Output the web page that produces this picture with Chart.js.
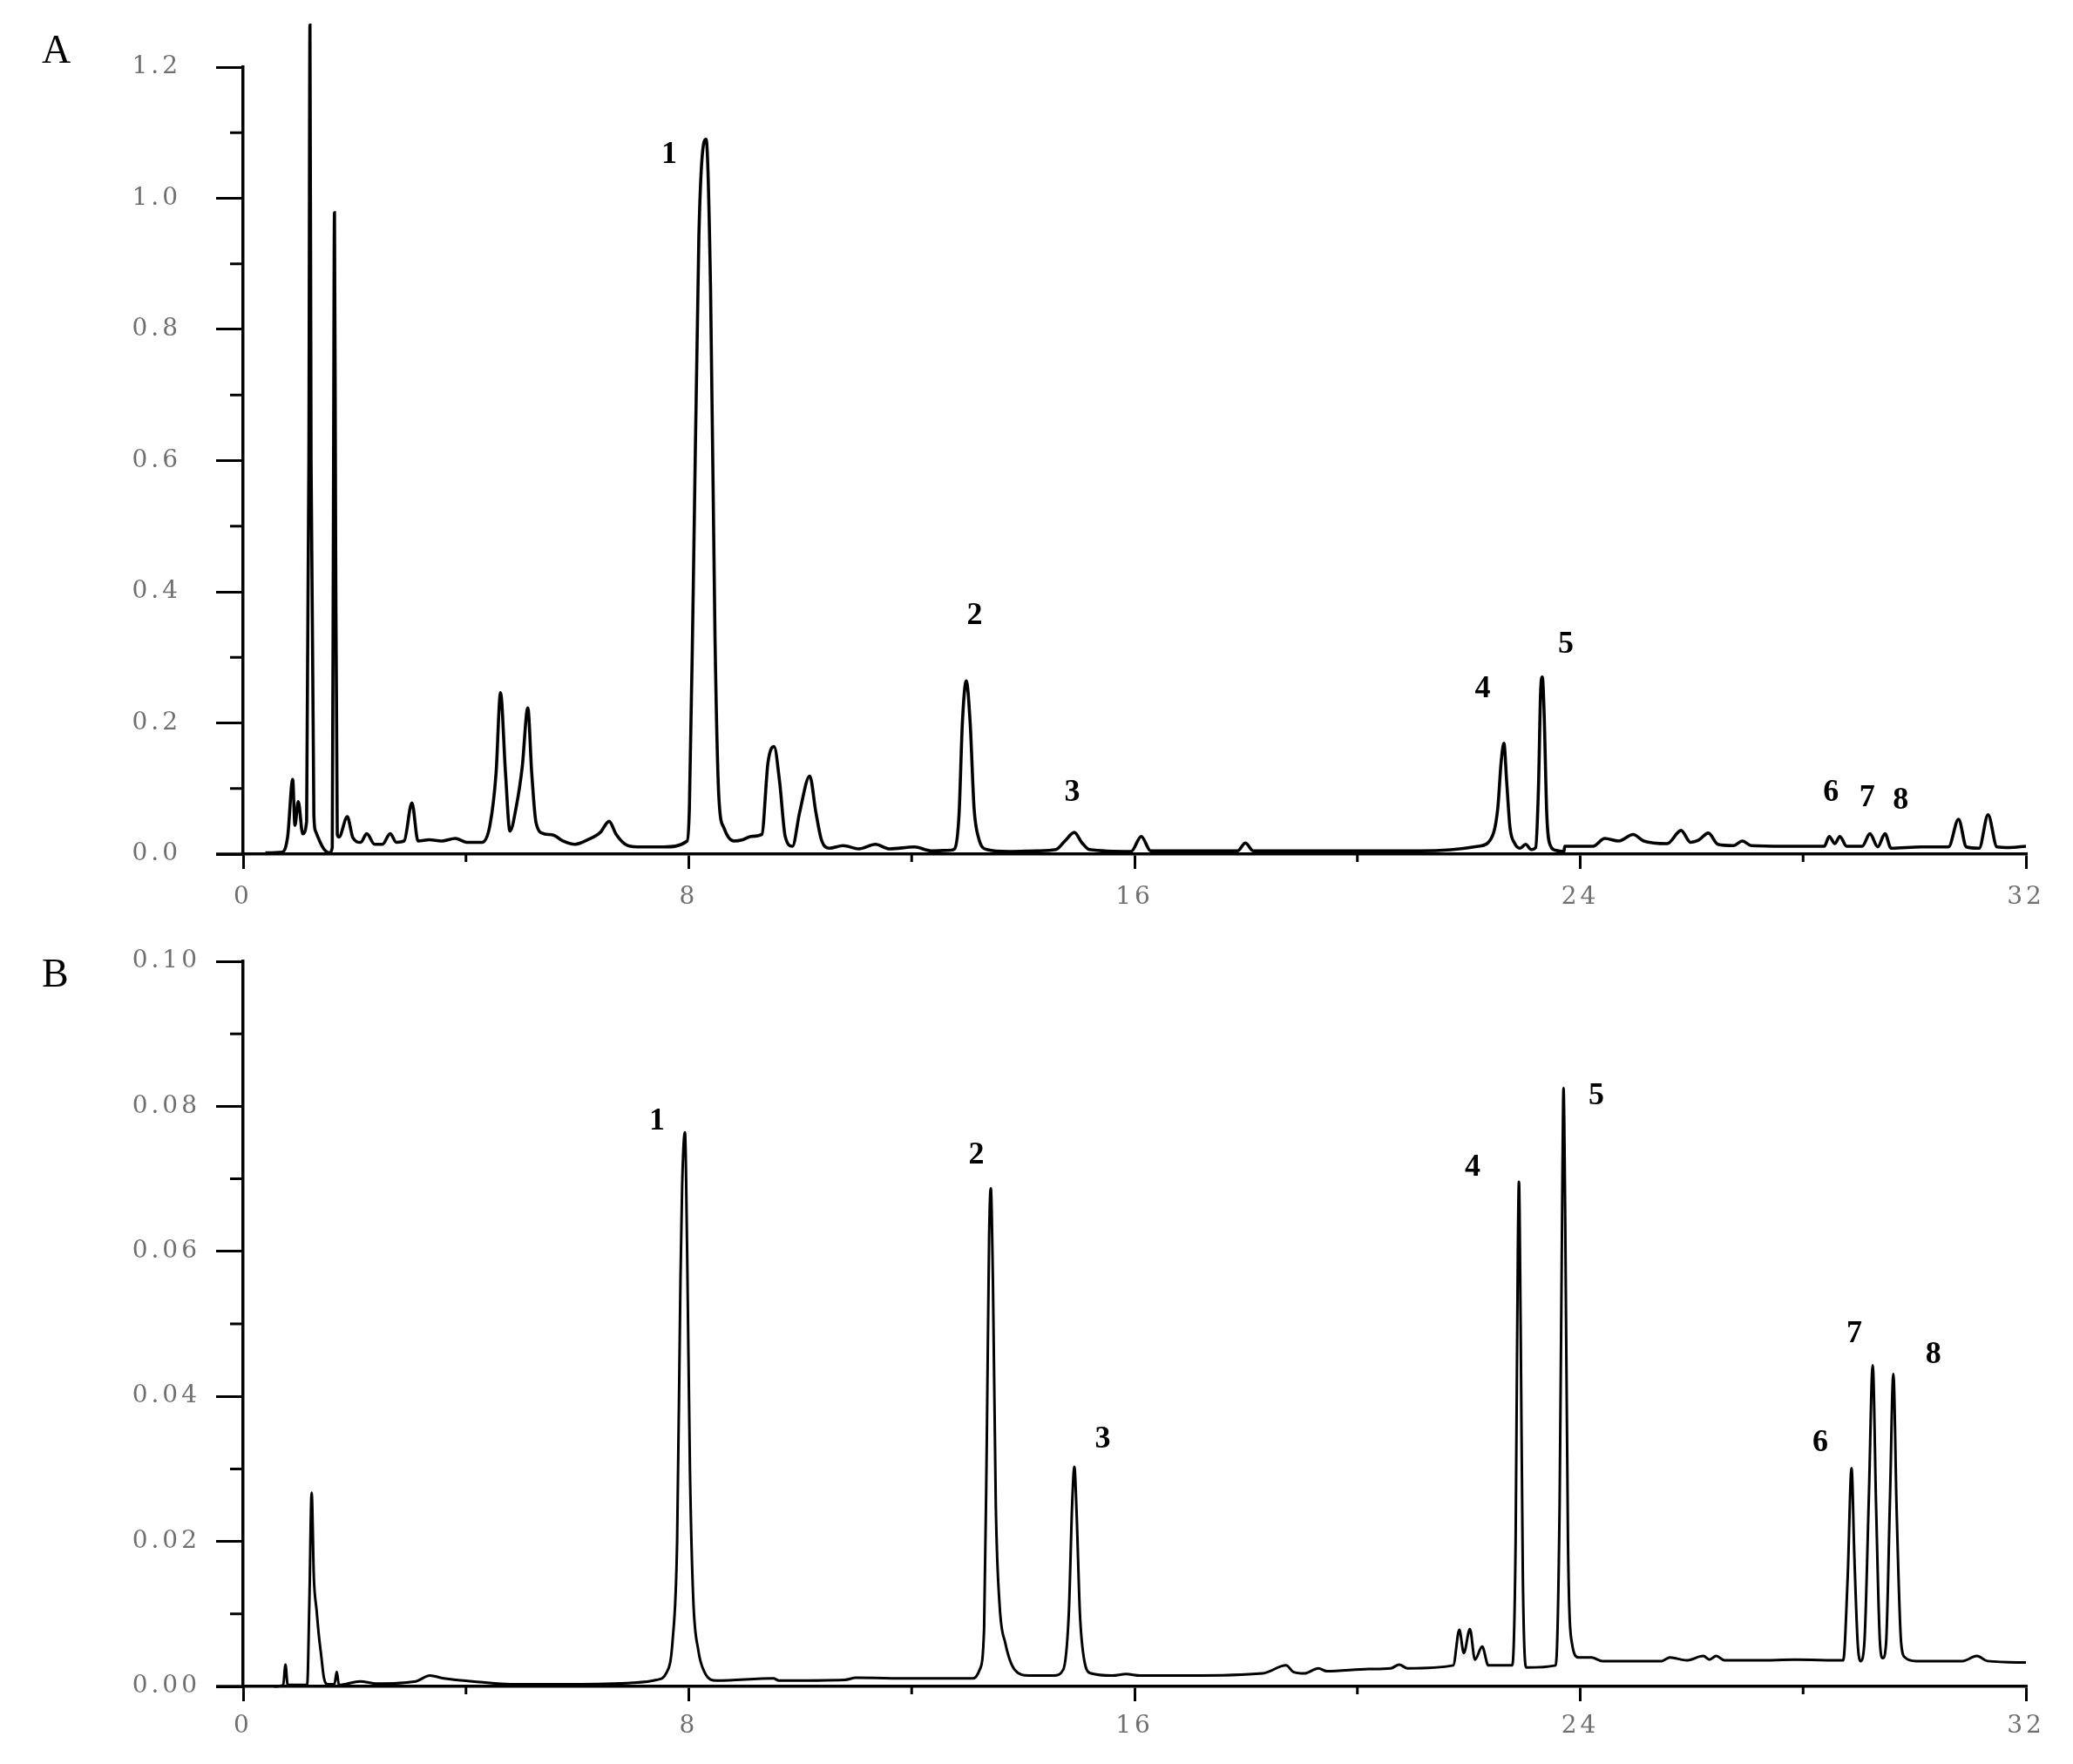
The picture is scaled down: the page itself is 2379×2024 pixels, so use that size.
<!DOCTYPE html>
<html>
<head>
<meta charset="utf-8">
<script src="https://cdn.jsdelivr.net/npm/chart.js@4/dist/chart.umd.min.js"></script>
<style>
  body { margin: 0; background: #fff; }
  #wrap { position: relative; width: 2379px; height: 2024px; }
  .panel { position: absolute; left: 0; }
  .letter { position: absolute; font-family: "Liberation Serif", serif; font-size: 46px; line-height: 46px; color: #000; }
</style>
</head>
<body>
<div id="wrap">
  <canvas id="chartA" class="panel" width="2379" height="1060" style="top:0"></canvas>
  <canvas id="chartB" class="panel" width="2379" height="964" style="top:1060px"></canvas>
  <div class="letter" style="left:48px;top:34px">A</div>
  <div class="letter" style="left:48px;top:1094px">B</div>
</div>
<script>
// retention time (min) and absorbance
var chromA = [
  [0.40, 0.002], [0.70, 0.003], [0.80, 0.027], [0.89, 0.114], [0.93, 0.044], [0.99, 0.080],
  [1.07, 0.031], [1.14, 0.050], [1.18, 0.600], [1.20, 1.264], [1.22, 0.600], [1.27, 0.060],
  [1.30, 0.035], [1.44, 0.009], [1.55, 0.002], [1.60, 0.010], [1.62, 0.500], [1.64, 0.978],
  [1.66, 0.500], [1.69, 0.030], [1.72, 0.026], [1.87, 0.057], [1.97, 0.025], [2.11, 0.018],
  [2.22, 0.031], [2.36, 0.015], [2.50, 0.015], [2.64, 0.031], [2.75, 0.018], [2.89, 0.020],
  [3.03, 0.078], [3.14, 0.020], [3.34, 0.022], [3.56, 0.020], [3.81, 0.024], [4.01, 0.018],
  [4.29, 0.018], [4.43, 0.044], [4.54, 0.123], [4.62, 0.246], [4.71, 0.123], [4.79, 0.035],
  [4.90, 0.071], [5.01, 0.133], [5.11, 0.223], [5.18, 0.124], [5.26, 0.047], [5.40, 0.031],
  [5.57, 0.029], [5.74, 0.020], [5.96, 0.015], [6.19, 0.022], [6.41, 0.033], [6.57, 0.050],
  [6.69, 0.031], [6.86, 0.015], [7.08, 0.011], [7.55, 0.011], [7.97, 0.020], [8.01, 0.070],
  [8.08, 0.406], [8.18, 0.940], [8.27, 1.085], [8.31, 1.090], [8.39, 0.863], [8.47, 0.330],
  [8.54, 0.086], [8.63, 0.040], [8.81, 0.020], [8.97, 0.022], [9.12, 0.027], [9.31, 0.030],
  [9.42, 0.139], [9.53, 0.164], [9.63, 0.110], [9.73, 0.027], [9.86, 0.012], [9.99, 0.064],
  [10.17, 0.119], [10.28, 0.064], [10.38, 0.022], [10.52, 0.009], [10.77, 0.013], [11.05, 0.008],
  [11.35, 0.015], [11.60, 0.008], [12.05, 0.011], [12.35, 0.005], [12.70, 0.006], [12.77, 0.008],
  [12.85, 0.060], [12.91, 0.200], [12.98, 0.264], [13.05, 0.200], [13.12, 0.070], [13.20, 0.025],
  [13.35, 0.007], [13.75, 0.004], [14.24, 0.005], [14.59, 0.007], [14.75, 0.020], [14.92, 0.033],
  [15.05, 0.018], [15.19, 0.007], [15.94, 0.004], [16.12, 0.027], [16.29, 0.005], [17.14, 0.005],
  [17.85, 0.005], [17.99, 0.017], [18.13, 0.005], [19.13, 0.005], [21.13, 0.005], [22.17, 0.012],
  [22.42, 0.027], [22.52, 0.070], [22.58, 0.140], [22.63, 0.169], [22.68, 0.110], [22.74, 0.040],
  [22.82, 0.017], [22.92, 0.009], [23.02, 0.015], [23.12, 0.007], [23.20, 0.010], [23.25, 0.100],
  [23.29, 0.250], [23.32, 0.270], [23.35, 0.220], [23.40, 0.060], [23.47, 0.012], [23.55, 0.006],
  [23.71, 0.004], [23.72, 0.012], [24.23, 0.012], [24.44, 0.024], [24.69, 0.020], [24.95, 0.030],
  [25.14, 0.020], [25.56, 0.016], [25.81, 0.036], [25.98, 0.018], [26.12, 0.021], [26.30, 0.032],
  [26.47, 0.015], [26.75, 0.013], [26.91, 0.020], [27.07, 0.013], [27.66, 0.012], [28.08, 0.012],
  [28.38, 0.012], [28.47, 0.027], [28.57, 0.016], [28.66, 0.027], [28.78, 0.012], [29.06, 0.012],
  [29.20, 0.031], [29.34, 0.011], [29.47, 0.031], [29.58, 0.009], [30.12, 0.011], [30.61, 0.011],
  [30.79, 0.053], [30.93, 0.011], [31.16, 0.009], [31.32, 0.060], [31.48, 0.011], [31.70, 0.010],
  [32.00, 0.012]
];

var chromB = [
  [0.55, 0.0000], [0.72, 0.0002], [0.76, 0.0030], [0.80, 0.0002], [1.15, 0.0002], [1.19, 0.0120],
  [1.23, 0.0267], [1.27, 0.0150], [1.32, 0.0104], [1.36, 0.0070], [1.40, 0.0044], [1.45, 0.0012],
  [1.52, 0.0003], [1.64, 0.0003], [1.68, 0.0020], [1.72, 0.0002], [2.10, 0.0007], [2.40, 0.0004],
  [3.10, 0.0007], [3.35, 0.0015], [3.60, 0.0011], [4.25, 0.0006], [4.80, 0.0003], [5.90, 0.0003],
  [7.00, 0.0005], [7.42, 0.0009], [7.60, 0.0019], [7.71, 0.0064], [7.79, 0.0200], [7.85, 0.0560],
  [7.88, 0.0690], [7.93, 0.0764], [7.97, 0.0600], [8.02, 0.0300], [8.08, 0.0120], [8.17, 0.0050],
  [8.28, 0.0020], [8.50, 0.0008], [9.52, 0.0011], [9.62, 0.0008], [10.80, 0.0009], [11.00, 0.0012],
  [12.00, 0.0011], [13.10, 0.0011], [13.22, 0.0023], [13.30, 0.0080], [13.35, 0.0350], [13.39, 0.0620],
  [13.42, 0.0687], [13.46, 0.0550], [13.51, 0.0250], [13.58, 0.0110], [13.68, 0.0060], [13.85, 0.0023],
  [14.10, 0.0015], [14.55, 0.0015], [14.72, 0.0023], [14.82, 0.0100], [14.88, 0.0250], [14.92, 0.0303],
  [14.96, 0.0240], [15.02, 0.0100], [15.10, 0.0035], [15.22, 0.0018], [15.60, 0.0015], [15.85, 0.0017],
  [16.10, 0.0015], [17.00, 0.0015], [18.30, 0.0018], [18.72, 0.0029], [18.85, 0.0020], [19.05, 0.0018],
  [19.30, 0.0025], [19.45, 0.0021], [20.20, 0.0024], [20.60, 0.0025], [20.75, 0.0030], [20.90, 0.0025],
  [21.72, 0.0029], [21.83, 0.0078], [21.91, 0.0046], [22.02, 0.0079], [22.11, 0.0037], [22.24, 0.0055],
  [22.35, 0.0029], [22.78, 0.0029], [22.84, 0.0200], [22.88, 0.0600], [22.90, 0.0696], [22.93, 0.0500],
  [22.97, 0.0150], [23.03, 0.0026], [23.56, 0.0029], [23.63, 0.0250], [23.68, 0.0700], [23.70, 0.0825],
  [23.73, 0.0650], [23.78, 0.0200], [23.85, 0.0060], [23.97, 0.0040], [24.20, 0.0040], [24.40, 0.0035],
  [25.46, 0.0035], [25.61, 0.0040], [25.91, 0.0036], [26.21, 0.0042], [26.32, 0.0037], [26.44, 0.0042],
  [26.59, 0.0036], [27.20, 0.0036], [27.86, 0.0037], [28.72, 0.0036], [28.80, 0.0150], [28.87, 0.0301],
  [28.92, 0.0180], [28.98, 0.0060], [29.03, 0.0035], [29.10, 0.0060], [29.18, 0.0260], [29.25, 0.0443],
  [29.31, 0.0250], [29.38, 0.0060], [29.43, 0.0039], [29.49, 0.0060], [29.56, 0.0260], [29.62, 0.0431],
  [29.68, 0.0240], [29.76, 0.0060], [29.83, 0.0040], [30.03, 0.0035], [30.86, 0.0035], [31.12, 0.0042],
  [31.31, 0.0035], [32.00, 0.0033]
];

// peak numbers and where they are written (time, absorbance)
var peakNames = ["1", "2", "3", "4", "5", "6", "7", "8"];
var peakTimeA = [7.65, 13.13, 14.88, 22.25, 23.74, 28.50, 29.15, 29.75];
var peakHeightA = [1.066, 0.363, 0.094, 0.252, 0.319, 0.093, 0.086, 0.081];
var peakTimeB = [7.43, 13.16, 15.43, 22.07, 24.29, 28.31, 28.92, 30.34];
var peakHeightB = [0.0779, 0.0732, 0.0341, 0.0715, 0.0814, 0.0336, 0.0486, 0.0457];

// axes
var xTicks = [0, 8, 16, 24, 32];
var xTickLabels = ["0", "8", "16", "24", "32"];
var xMinor = [4, 12, 20, 28];
var yTicksA = [0, 0.2, 0.4, 0.6, 0.8, 1.0, 1.2];
var yTickLabelsA = ["0.0", "0.2", "0.4", "0.6", "0.8", "1.0", "1.2"];
var yMinorA = [0.1, 0.3, 0.5, 0.7, 0.9, 1.1];
var yTicksB = [0, 0.02, 0.04, 0.06, 0.08, 0.10];
var yTickLabelsB = ["0.00", "0.02", "0.04", "0.06", "0.08", "0.10"];
var yMinorB = [0.01, 0.03, 0.05, 0.07, 0.09];

var tickFont = { family: "DejaVu Serif", size: 28 };
var tickGrey = "#6f6f6f";

// wider spacing for tick text, like the original figure
var spacing = {
  id: "spacing",
  beforeDraw: function (chart) { chart.ctx.letterSpacing = "4px"; },
  afterDraw: function (chart) { chart.ctx.letterSpacing = "0px"; }
};

// short minor ticks + the bit of x axis left of the origin
var axisMarks = {
  id: "axisMarks",
  afterDraw: function (chart, args, opts) {
    var ctx = chart.ctx, x = chart.scales.x, y = chart.scales.y;
    ctx.save();
    ctx.strokeStyle = "#000";
    ctx.lineWidth = 3;
    ctx.beginPath();
    opts.xMinor.forEach(function (v) {
      var px = x.getPixelForValue(v);
      ctx.moveTo(px, y.bottom);
      ctx.lineTo(px, y.bottom + 9);
    });
    opts.yMinor.forEach(function (v) {
      var py = y.getPixelForValue(v);
      ctx.moveTo(x.left, py);
      ctx.lineTo(x.left - 15, py);
    });
    ctx.stroke();
    ctx.lineWidth = 3.5;
    ctx.beginPath();
    ctx.moveTo(x.left - 31, y.bottom);
    ctx.lineTo(x.left, y.bottom);
    ctx.stroke();
    ctx.restore();
  }
};

var peakLabels = {
  id: "peakLabels",
  afterDatasetsDraw: function (chart, args, opts) {
    var ctx = chart.ctx, x = chart.scales.x, y = chart.scales.y;
    ctx.save();
    ctx.letterSpacing = "0px";
    ctx.font = "bold 36px 'Liberation Serif'";
    ctx.fillStyle = "#000";
    ctx.textAlign = "center";
    ctx.textBaseline = "middle";
    peakNames.forEach(function (n, i) {
      ctx.fillText(n, x.getPixelForValue(opts.times[i]), y.getPixelForValue(opts.heights[i]));
    });
    ctx.restore();
  }
};

function makeChart(id, trace, cfg) {
  return new Chart(document.getElementById(id), {
    type: "line",
    data: {
      datasets: [{
        data: trace.map(function (p) { return { x: p[0], y: p[1] }; }),
        borderColor: "#000",
        borderWidth: cfg.lineWidth,
        pointRadius: 0,
        cubicInterpolationMode: "monotone",
        clip: false
      }]
    },
    options: {
      responsive: false,
      animation: false,
      devicePixelRatio: 1,
      layout: { padding: { top: cfg.top, right: 54, left: 0, bottom: 0 } },
      plugins: {
        legend: { display: false },
        tooltip: { enabled: false },
        axisMarks: { xMinor: xMinor, yMinor: cfg.yMinor },
        peakLabels: { times: cfg.peakTimes, heights: cfg.peakHeights }
      },
      scales: {
        x: {
          type: "linear", min: 0, max: 32,
          afterFit: function (s) { s.height = cfg.xHeight; },
          afterBuildTicks: function (s) { s.ticks = xTicks.map(function (v) { return { value: v }; }); },
          grid: { drawOnChartArea: false, tickLength: 17, color: "#000", lineWidth: 3 },
          border: { color: "#000", width: 3.5 },
          ticks: {
            font: tickFont, color: tickGrey, padding: cfg.xPad, maxRotation: 0, autoSkip: false,
            callback: function (v, i) { return xTickLabels[i]; }
          }
        },
        y: {
          min: 0, max: cfg.yMax,
          afterFit: function (s) { s.width = 279; },
          afterBuildTicks: function (s) { s.ticks = cfg.yTicks.map(function (v) { return { value: v }; }); },
          grid: { drawOnChartArea: false, tickLength: 31, color: "#000", lineWidth: 3 },
          border: { color: "#000", width: 3.5 },
          ticks: {
            font: tickFont, color: tickGrey, padding: cfg.yPad, autoSkip: false,
            callback: function (v, i) { return cfg.yLabels[i]; }
          }
        }
      }
    },
    plugins: [spacing, axisMarks, peakLabels]
  });
}

makeChart("chartA", chromA, {
  top: 77, xHeight: 80, xPad: 16, yPad: 40, yMax: 1.2, lineWidth: 3.6,
  yTicks: yTicksA, yLabels: yTickLabelsA, yMinor: yMinorA,
  peakTimes: peakTimeA, peakHeights: peakHeightA
});

makeChart("chartB", chromB, {
  top: 43, xHeight: 89, xPad: 12, yPad: 18, yMax: 0.10, lineWidth: 3,
  yTicks: yTicksB, yLabels: yTickLabelsB, yMinor: yMinorB,
  peakTimes: peakTimeB, peakHeights: peakHeightB
});
</script>
</body>
</html>
